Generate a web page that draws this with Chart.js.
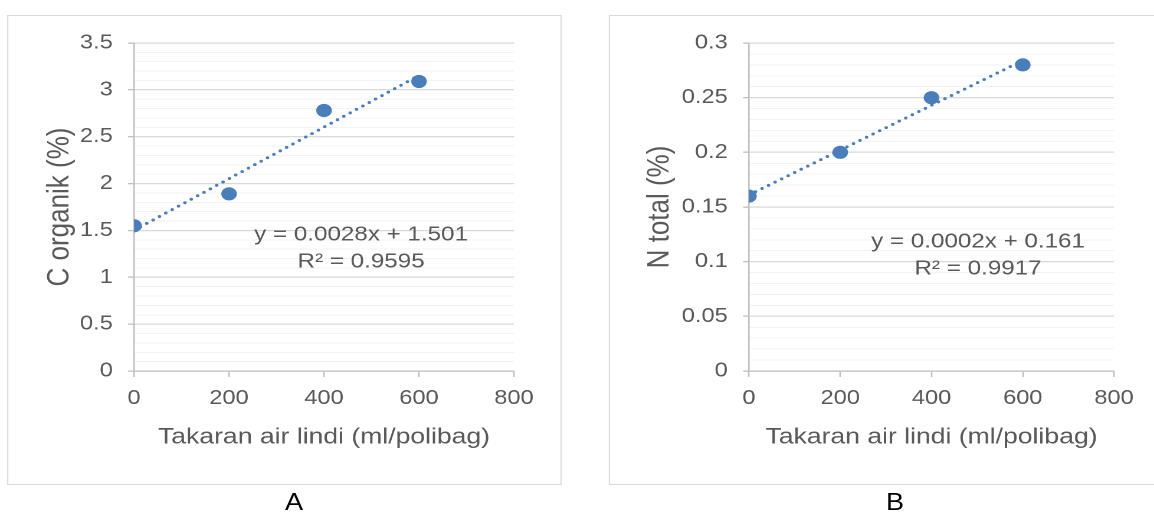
<!DOCTYPE html>
<html><head><meta charset="utf-8">
<script src="https://cdn.jsdelivr.net/npm/chart.js@4"></script>
<style>
html,body{margin:0;padding:0;background:#fff;overflow:hidden;width:1154px;height:513px;}
#wrap{position:absolute;left:0;top:0;width:978px;height:513px;transform:scaleX(1.18);transform-origin:0 0;}
.box{position:absolute;box-sizing:border-box;border:1.5px solid #d9d9d9;}
canvas{position:absolute;top:0;}
.lbl{position:absolute;font-family:"Liberation Sans",Arial,sans-serif;font-size:23px;line-height:23px;color:#000;text-align:center;width:60px;}
</style></head>
<body>
<div id="wrap">
  <div class="box" style="left:5.9px;top:15px;width:470.5px;height:469.5px;"></div>
  <div class="box" style="left:515.8px;top:15px;width:470px;height:469.5px;"></div>
  <canvas id="cA" width="489" height="513" style="left:0px;"></canvas>
  <canvas id="cB" width="489" height="513" style="left:489px;"></canvas>
  <div class="lbl" style="left:219.2px;top:491px;">A</div>
  <div class="lbl" style="left:728.5px;top:491px;">B</div>
</div>
<script>
// ---- data ----
const doseA = [0, 200, 400, 600];
const cOrganik = [1.55, 1.89, 2.78, 3.09];
const doseB = [0, 200, 400, 600];
const nTotal = [0.16, 0.20, 0.25, 0.28];
const xTickValues = [0, 200, 400, 600, 800];
const yMajorA = [0, 0.5, 1, 1.5, 2, 2.5, 3, 3.5];
const yMajorB = [0, 0.05, 0.1, 0.15, 0.2, 0.25, 0.3];
const eqTextA = ['y = 0.0028x + 1.501', 'R\u00b2 = 0.9595'];
const eqTextB = ['y = 0.0002x + 0.161', 'R\u00b2 = 0.9917'];

const FONT = '"Liberation Sans", Arial, sans-serif';
const TXT = '#595959';
const BLUE = '#4a7ebb';

function linReg(xs, ys) {
  const n = xs.length;
  const mx = xs.reduce((a, b) => a + b, 0) / n;
  const my = ys.reduce((a, b) => a + b, 0) / n;
  let sxy = 0, sxx = 0;
  for (let i = 0; i < n; i++) { sxy += (xs[i] - mx) * (ys[i] - my); sxx += (xs[i] - mx) ** 2; }
  const b = sxy / sxx;
  return { slope: b, intercept: my - b * mx };
}

const eqPlugin = {
  id: 'eqLabel',
  afterDatasetsDraw(chart, args, opts) {
    const ctx = chart.ctx;
    const xs = chart.scales.x, ys = chart.scales.y;
    ctx.save();
    ctx.font = opts.size + 'px ' + FONT;
    ctx.fillStyle = TXT;
    ctx.textAlign = 'center';
    ctx.textBaseline = 'middle';
    const px = xs.getPixelForValue(opts.x);
    const py = ys.getPixelForValue(opts.y);
    opts.lines.forEach((t, i) => ctx.fillText(t, px, py + i * opts.gap));
    ctx.restore();
  }
};

function makeChart(id, cfg) {
  const reg = linReg(cfg.xs, cfg.ys);
  const x0 = Math.min(...cfg.xs), x1 = Math.max(...cfg.xs);
  const trend = [{x: x0, y: reg.intercept + reg.slope * x0}, {x: x1, y: reg.intercept + reg.slope * x1}];
  const pts = cfg.xs.map((x, i) => ({x: x, y: cfg.ys[i]}));
  const isMajor = v => cfg.majors.some(m => Math.abs(m - v) < 1e-9);
  return new Chart(document.getElementById(id), {
    type: 'scatter',
    data: { datasets: [
      { type: 'line', data: trend, borderColor: BLUE, borderWidth: 3, borderDash: [0, 6.4],
        borderCapStyle: 'round', pointRadius: 0, fill: false, tension: 0, order: 0 },
      { data: pts, backgroundColor: BLUE, borderColor: BLUE, borderWidth: 0,
        pointRadius: 6.6, pointHoverRadius: 6.6, order: 1 }
    ]},
    options: {
      responsive: false, animation: false, devicePixelRatio: 2, events: [],
      layout: { padding: { left: 0, right: cfg.padRight, top: 43, bottom: 0 } },
      plugins: { legend: { display: false }, tooltip: { enabled: false },
        eqLabel: { x: cfg.eqX, y: cfg.eqY, lines: cfg.eqText, size: 20.5, gap: 27 } },
      scales: {
        x: {
          type: 'linear', min: xTickValues[0], max: xTickValues[xTickValues.length - 1],
          afterFit: s => { s.height = 142; },
          ticks: { stepSize: xTickValues[1] - xTickValues[0], color: TXT, font: { family: FONT, size: 20 }, padding: 9.5 },
          grid: { drawOnChartArea: false, drawTicks: true, tickLength: 6, tickColor: '#bfbfbf', tickWidth: 1.3 },
          border: { color: '#bfbfbf', width: 1.3 },
          title: { display: true, text: 'Takaran air lindi (ml/polibag)', color: TXT,
            font: { family: FONT, size: 22.5 }, padding: { top: 0, bottom: 62 } }
        },
        y: {
          type: 'linear', min: cfg.majors[0], max: cfg.majors[cfg.majors.length - 1],
          afterFit: s => { s.width = cfg.yWidth; },
          ticks: { stepSize: cfg.minorStep, autoSkip: false, color: TXT, font: { family: FONT, size: 20 }, padding: 13,
            callback: v => isMajor(v) ? String(+(+v).toFixed(3)) : '' },
          grid: {
            color: c => (c.tick && isMajor(c.tick.value)) ? '#d9d9d9' : '#f2f2f2',
            lineWidth: c => (c.tick && isMajor(c.tick.value)) ? 1.3 : 1,
            tickColor: c => (c.tick && isMajor(c.tick.value)) ? '#bfbfbf' : 'rgba(0,0,0,0)',
            tickLength: 5, tickWidth: 1.3
          },
          border: { color: '#bfbfbf', width: 1.3 },
          title: { display: true, text: cfg.yTitle, color: TXT, font: { family: FONT, size: 26 },
            padding: { top: cfg.titlePad, bottom: 0 } }
        }
      }
    },
    plugins: [eqPlugin]
  });
}

makeChart('cA', { xs: doseA, ys: cOrganik, majors: yMajorA, minorStep: 0.1, yTitle: 'C organik (%)',
  yWidth: 113.6, padRight: 53.4, titlePad: 35.2, eqX: 478, eqY: 1.451, eqText: eqTextA });
makeChart('cB', { xs: doseB, ys: nTotal, majors: yMajorB, minorStep: 0.01, yTitle: 'N total (%)',
  yWidth: 145.7, padRight: 33.9, titlePad: 54.7, eqX: 502, eqY: 0.118, eqText: eqTextB });
</script>
</body></html>
